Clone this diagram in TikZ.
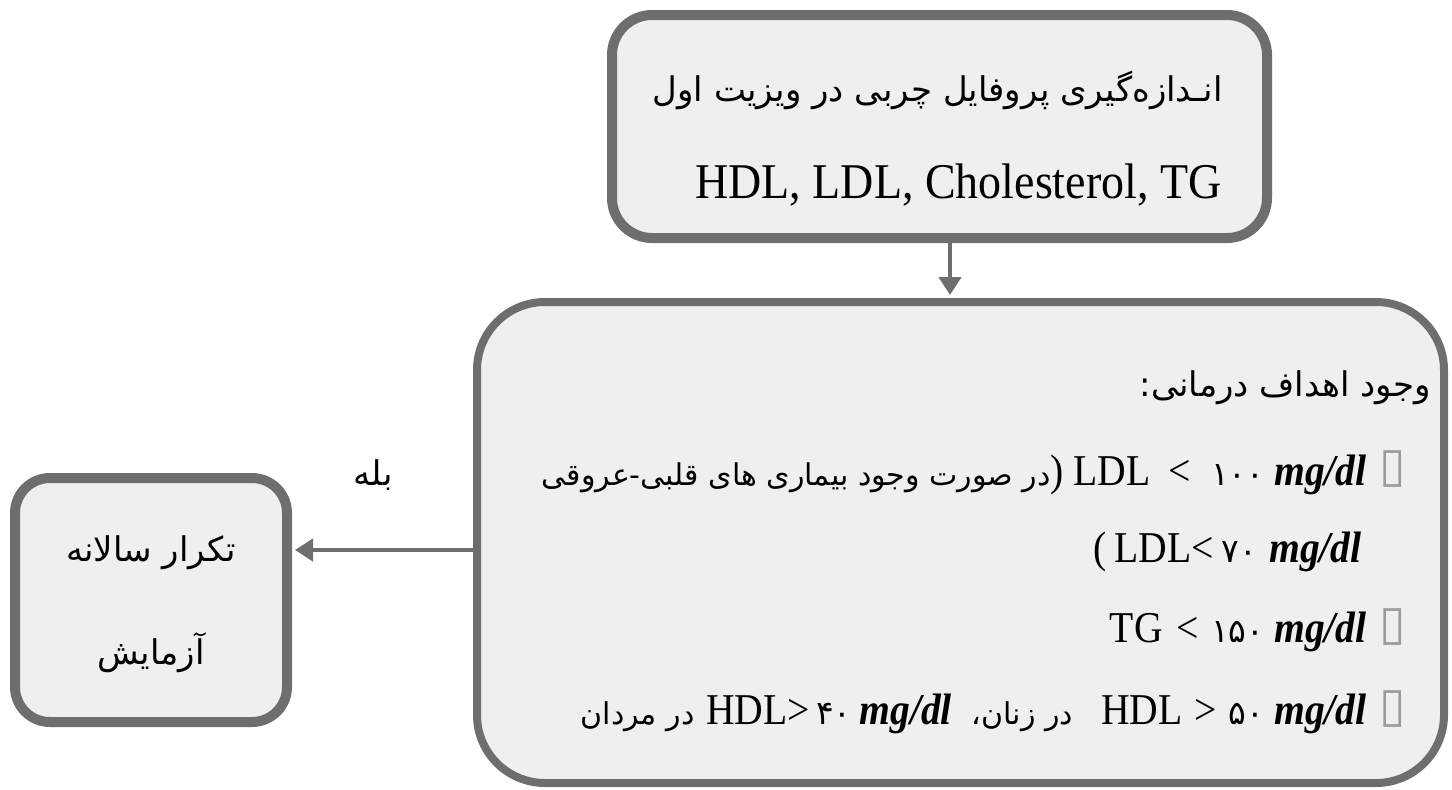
\documentclass[tikz,border=0pt]{standalone}
\usepackage{fontspec}
\setmainfont{Liberation Serif}
\newfontfamily\latcond[FakeStretch=0.9]{Liberation Serif}
\newfontfamily\lattop[FakeStretch=0.92]{Liberation Serif}
\newfontfamily\fa[Script=Arabic]{DejaVu Sans}
\newfontfamily\fanum{DejaVu Sans}
\TeXXeTstate=1
\usetikzlibrary{arrows.meta}
\definecolor{bordergray}{HTML}{6E6E6E}
\definecolor{boxfill}{HTML}{EFEFEF}
\definecolor{bulgray}{HTML}{9A9A9A}
\newcommand{\FA}[1]{{\fa\fontsize{15}{17}\selectfont\beginR #1\endR}}
\newcommand{\MG}{\textbf{\textit{mg/dl}}}
\newcommand{\NUM}[1]{{\fanum\fontsize{16.5}{17}\selectfont #1}}
\begin{document}
\begin{tikzpicture}[x=0.5pt,y=-0.5pt,
  box/.style={draw=bordergray, fill=boxfill, rectangle, inner sep=0pt},
  arr/.style={draw=bordergray, line width=2.25pt, -{Triangle[length=9pt,width=11pt]}, shorten >=1.5pt},
  txt/.style={inner sep=0pt, text=black},
  fatxt/.style={txt, font=\fa\fontsize{17}{20}\selectfont},
  lattxt/.style={txt, font=\latcond\fontsize{22}{24}\selectfont},
  bul/.style={inner sep=0pt, text=bulgray, font=\fanum\fontsize{24}{24}\selectfont}]
\useasboundingbox (0,0) rectangle (1452,789);
% boxes
\node[box, line width=5pt, rounded corners=20pt, minimum width=327.5pt, minimum height=111.5pt] (top) at (939.5,126.5) {};
\node[box, line width=4pt, rounded corners=34pt, minimum width=483.5pt, minimum height=240.5pt] (big) at (960.5,542.5) {};
\node[box, line width=5pt, rounded corners=17.5pt, minimum width=136pt, minimum height=122pt] (left) at (151,600) {};
% top box text
\node[fatxt, anchor=east] (t1) at (1223,90) {\beginR انـدازه‌گیری پروفایل چربی در ویزیت اول\endR};
\node[txt, anchor=base east, font=\lattop\fontsize{25}{28}\selectfont] (t2) at (1222,198) {HDL, LDL, Cholesterol, TG};
% big box text
\node[fatxt, anchor=east] (b1) at (1431,388) {\beginR وجود اهداف درمانی:\endR};
\node[lattxt, anchor=base east] (b2) at (1367,485) {\FA{در صورت وجود بیماری های قلبی-عروقی})\hspace{5pt}LDL\hspace{9pt}<\hspace{10pt}\NUM{۱۰۰}\hspace{5pt}\MG};
\node[lattxt, anchor=base east] (b3) at (1362,562) {(\hspace{4pt}LDL<\hspace{4pt}\NUM{۷۰}\hspace{6pt}\MG};
\node[lattxt, anchor=base east] (b4) at (1367,642) {TG\hspace{7pt}<\hspace{6pt}\NUM{۱۵۰}\hspace{5pt}\MG};
\node[lattxt, anchor=base east] (b5) at (1367,724) {\FA{در مردان}\hspace{6pt}HDL>\hspace{3pt}\NUM{۴۰}\hspace{4pt}\MG\hspace{10pt}\FA{در زنان،}\hspace{14pt}HDL\hspace{6pt}>\hspace{6pt}\NUM{۵۰}\hspace{5pt}\MG};
\node[bul] (u2) at (1393,469) {▯};
\node[bul] (u4) at (1393,627) {▯};
\node[bul] (u5) at (1393,709) {▯};
% left box text
\node[fatxt] (l1) at (151,553) {\beginR تکرار سالانه\endR};
\node[fatxt] (l2) at (151,653) {\beginR آزمایش\endR};
% label
\node[fatxt] (yes) at (373,475) {\beginR بله\endR};
% connectors
\draw[arr] ([xshift=5.25pt]top.south) -- ([xshift=5.25pt]top.south |- big.north);
\draw[arr] ([yshift=-3.75pt]big.west) -- ([yshift=-3.75pt]big.west -| left.east);
\end{tikzpicture}
\end{document}
